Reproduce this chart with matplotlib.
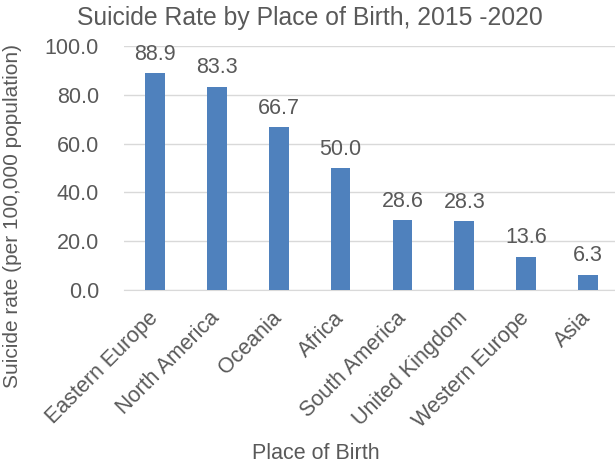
import matplotlib.pyplot as plt
from matplotlib.ticker import FormatStrFormatter

plt.rcParams['font.family'] = ['Liberation Sans', 'DejaVu Sans']

# --- data ---
places = ["Eastern Europe", "North America", "Oceania", "Africa",
          "South America", "United Kingdom", "Western Europe", "Asia"]
rates = [88.9, 83.3, 66.7, 50.0, 28.6, 28.3, 13.6, 6.3]

text_color = "#595959"
grid_color = "#D9D9D9"

fig = plt.figure(figsize=(6.15, 4.69), dpi=100)
ax = fig.add_axes([124 / 615, 179 / 469, 495 / 615, 244 / 469])

x = range(len(places))
ax.bar(x, rates, width=0.32, color="#4F81BD", zorder=3)
for xi, v in zip(x, rates):
    ax.annotate(f"{v:.1f}", (xi, v), xytext=(0, 6), textcoords="offset points",
                ha="center", va="bottom", fontsize=15.5, color=text_color)

ax.set_xlim(-0.5, len(places) - 0.5)
ax.set_ylim(0, 100)
ax.set_yticks([0, 20, 40, 60, 80, 100])
ax.yaxis.set_major_formatter(FormatStrFormatter("%.1f"))
ax.set_xticks(list(x))
ax.set_xticklabels(places, rotation=45, ha="right", va="center",
                   rotation_mode="anchor")

ax.grid(True, axis="y", color=grid_color, linewidth=1, zorder=0)
for side in ["top", "right", "left"]:
    ax.spines[side].set_visible(False)
ax.spines["bottom"].set_color(grid_color)
ax.tick_params(axis="both", length=0, labelsize=15.5, colors=text_color)
ax.tick_params(axis="y", pad=18)
ax.tick_params(axis="x", pad=18)

ax.set_ylabel("Suicide rate (per 100,000 population)", fontsize=15, color=text_color)
ax.set_xlabel("Place of Birth", fontsize=15.5, color=text_color)
ax.yaxis.set_label_coords(-102 / 495, (290 - 216) / 244)
ax.xaxis.set_label_coords((316 - 124) / 495, -(443 - 290) / 244)

fig.text(310 / 615, 1 - 18 / 469, "Suicide Rate by Place of Birth, 2015 -2020",
         ha="center", va="center", fontsize=17.8, color=text_color)

fig.savefig("out.png", dpi=100)
